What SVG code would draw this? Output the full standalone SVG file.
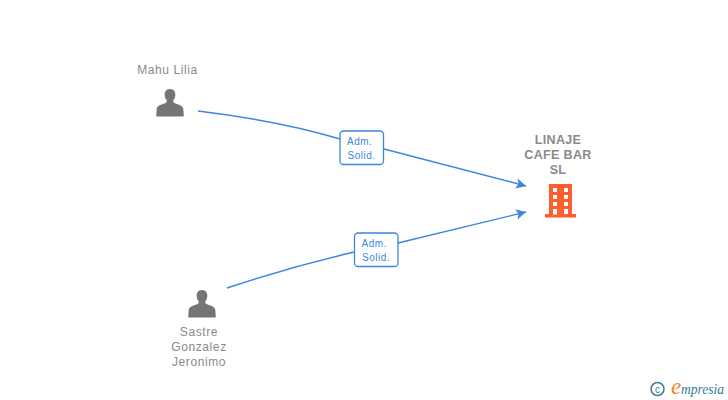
<svg xmlns="http://www.w3.org/2000/svg" width="728" height="400" viewBox="0 0 728 400">
<defs>
<marker id="arrow" markerUnits="userSpaceOnUse" markerWidth="12" markerHeight="12" refX="10.500" refY="6" orient="auto"><path d="M0.500,0.800 L10.500,6 L0.500,11.200 L2.800,6 Z" fill="#3d85e0"/></marker>
<path id="person" d="M0,-14.500 C-3.800,-14.500 -5.600,-11.500 -5.300,-8.300 C-5.100,-6 -4.400,-4.400 -3.300,-3.200 C-3,-1.600 -3.600,-0.800 -5,-0.200 C-8.500,1.200 -12.800,1.900 -13.300,5.500 L-13.800,12 Q-13.800,13 -12.800,13 L12.800,13 Q13.800,13 13.800,12 L13.300,5.500 C12.800,1.900 8.500,1.200 5,-0.200 C3.600,-0.800 3,-1.600 3.300,-3.200 C4.400,-4.400 5.100,-6 5.300,-8.300 C5.600,-11.500 3.800,-14.500 0,-14.500 Z" fill="#757575"/>
</defs>
<style>
text{font-family:"Liberation Sans",Arial,sans-serif}
.n{font-size:12px;fill:#8a8a8a;text-anchor:middle;letter-spacing:.6px}
.c{font-size:12.500px;font-weight:bold;fill:#8a8a8a;text-anchor:middle;letter-spacing:.35px}
.l{font-size:10px;fill:#3d85e0;letter-spacing:.5px}
.e{fill:none;stroke:#3d85e0;stroke-width:1.400}
.b{fill:#fff;stroke:#3d85e0;stroke-width:1.300}
</style>
<g id="connectors">
<path class="e" marker-end="url(#arrow)" d="M198,111 Q280,121 340,139 M384,149 L526,186"/>
<path class="e" marker-end="url(#arrow)" d="M227,288 Q290,267 354,252 M398,243 L526,212"/>
<g><rect class="b" x="340" y="131" width="43.500" height="33.500" rx="3.500"/><text class="l" x="347" y="145">Adm.</text><text class="l" x="347.500" y="159">Solid.</text></g>
<g><rect class="b" x="354.500" y="233" width="43.500" height="33.500" rx="3.500"/><text class="l" x="361.500" y="247">Adm.</text><text class="l" x="362" y="261">Solid.</text></g>
</g>
<g id="node-mahu"><text class="n" x="167.500" y="74">Mahu Lilia</text><use href="#person" x="170" y="103.500"/></g>
<g id="node-sastre"><use href="#person" x="202" y="304.500"/><text class="n" x="199" y="336">Sastre</text><text class="n" x="199" y="351">Gonzalez</text><text class="n" x="199" y="366">Jeronimo</text></g>
<g id="node-linaje"><text class="c" x="558" y="144">LINAJE</text><text class="c" x="558" y="159">CAFE BAR</text><text class="c" x="558" y="174">SL</text>
<path fill="#ff5e2e" fill-rule="evenodd" d="M549,184 H572 V214 H576 V217.500 H545 V214 H549 Z M553,188 V192 H557 V188 Z M564,188 V192 H568 V188 Z M553,195 V199 H557 V195 Z M564,195 V199 H568 V195 Z M553,202 V206 H557 V202 Z M564,202 V206 H568 V202 Z M553,209 V214.500 H557 V209 Z M564,209 V214 H568 V209 Z"/>
<rect x="559.500" y="188" width="2" height="26" fill="#ff5e2e"/></g>
<g id="logo"><circle cx="657.500" cy="389" r="6.500" fill="none" stroke="#3a7d96" stroke-width="1.500"/><text x="657.500" y="392.500" font-size="10" fill="#3a7d96" text-anchor="middle">c</text>
<text x="671" y="394" font-size="23" fill="#f08a1d" style="font-family:'Liberation Serif',serif;font-style:italic">e</text>
<text x="681" y="394" font-size="14" textLength="43" lengthAdjust="spacingAndGlyphs" fill="#2f7d96" style="font-family:'Liberation Serif',serif;font-style:italic">mpresia</text></g>
</svg>
